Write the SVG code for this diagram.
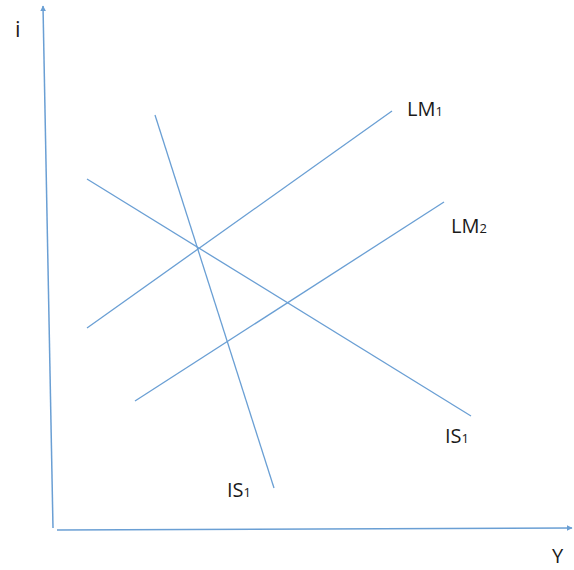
<svg xmlns="http://www.w3.org/2000/svg" width="574" height="570" viewBox="0 0 574 570">
<defs>
<style>
.ln{stroke:#6a9fd4;stroke-width:1.3;fill:none}
.ax{stroke:#6a9fd4;stroke-width:1.5;fill:none}
.t{font-family:"Open Sans","Liberation Sans",sans-serif;font-size:20px;fill:#1a1a1a}
.s{font-size:13px}
</style>
<marker id="ah" viewBox="0 0 10 10" refX="9" refY="5" markerWidth="6" markerHeight="6" orient="auto" markerUnits="userSpaceOnUse">
<path d="M0,0 L10,5 L0,10 Z" fill="#6a9fd4"/>
</marker>
</defs>
<rect width="574" height="570" fill="#ffffff"/>
<g id="connectors">
<line class="ax" x1="53" y1="528" x2="43" y2="6" marker-end="url(#ah)"/>
<line class="ax" x1="57" y1="530" x2="572" y2="528" marker-end="url(#ah)"/>
<line class="ln" x1="87" y1="328" x2="392" y2="111"/>
<line class="ln" x1="135" y1="401" x2="444" y2="202"/>
<line class="ln" x1="87" y1="179" x2="471" y2="416"/>
<line class="ln" x1="155" y1="115" x2="274" y2="488"/>
</g>
<g id="label-i"><text class="t" x="15" y="37" style="font-size:22px">i</text></g>
<g id="label-Y"><text class="t" x="552" y="563" style="font-size:20px">Y</text></g>
<g id="label-LM1"><text class="t" x="407" y="116">LM<tspan class="s">1</tspan></text></g>
<g id="label-LM2"><text class="t" x="451" y="233">LM<tspan class="s">2</tspan></text></g>
<g id="label-IS1a"><text class="t" x="445" y="443">IS<tspan class="s">1</tspan></text></g>
<g id="label-IS1b"><text class="t" x="227" y="497">IS<tspan class="s">1</tspan></text></g>
</svg>
